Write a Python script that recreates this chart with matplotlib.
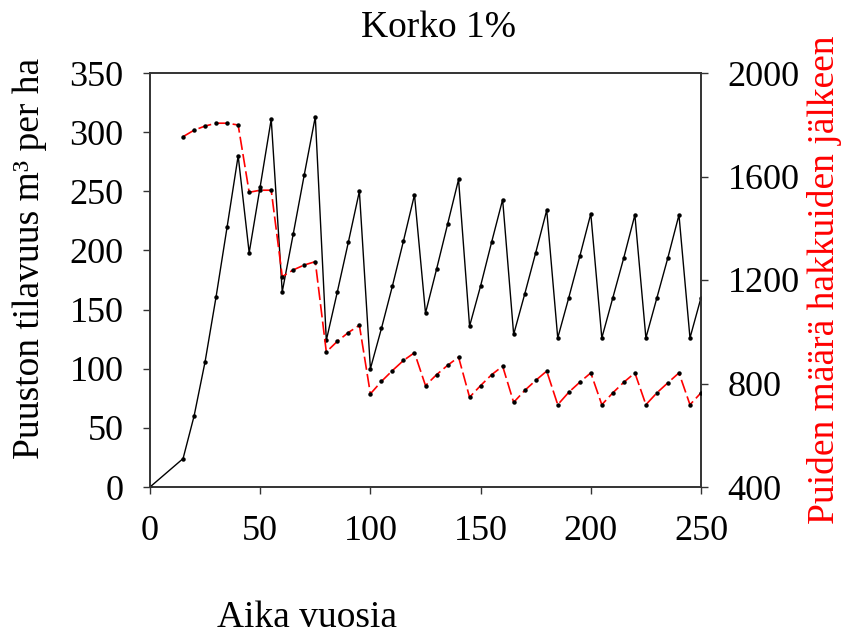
import matplotlib
matplotlib.use("Agg")
import matplotlib.pyplot as plt

plt.rcParams['font.family'] = ['Liberation Serif', 'DejaVu Serif']

years_vol = [0, 15, 20, 25, 30, 35, 40, 45, 50, 55, 60, 65, 70, 75, 80, 85, 90, 95,
             100, 105, 110, 115, 120, 125, 130, 135, 140, 145, 150, 155, 160, 165,
             170, 175, 180, 185, 190, 195, 200, 205, 210, 215, 220, 225, 230, 235,
             240, 245, 250]
volume = [0, 24, 60, 106, 161, 220, 280, 198, 254, 311, 165, 214, 264, 313, 124, 165,
          207, 250, 100, 134, 170, 208, 247, 147, 184, 222, 260, 136, 170, 207, 243,
          129, 163, 198, 234, 126, 160, 195, 231, 126, 160, 194, 230, 126, 160, 194,
          230, 126, 160]

years_trees = [15, 20, 25, 30, 35, 40, 45, 50, 55, 60, 65, 70, 75, 80, 85, 90, 95,
               100, 105, 110, 115, 120, 125, 130, 135, 140, 145, 150, 155, 160, 165,
               170, 175, 180, 185, 190, 195, 200, 205, 210, 215, 220, 225, 230, 235,
               240, 245, 250]
trees = [1754, 1779, 1795, 1806, 1806, 1799, 1539, 1547, 1547, 1213, 1239, 1258, 1271,
         922, 963, 997, 1025, 760, 808, 850, 889, 919, 792, 834, 870, 902, 747, 792,
         834, 867, 727, 773, 812, 848, 718, 766, 805, 841, 718, 764, 805, 841, 718,
         764, 803, 841, 718, 764]

title = "Korko 1%"
xlabel = "Aika vuosia"
ylabel_left = "Puuston tilavuus m³ per ha"
ylabel_right = "Puiden määrä hakkuiden jälkeen"
xticks = [0, 50, 100, 150, 200, 250]
yticks_left = [0, 50, 100, 150, 200, 250, 300, 350]
yticks_right = [400, 800, 1200, 1600, 2000]

W, H = 841, 634
fig = plt.figure(figsize=(W / 100, H / 100), dpi=100)
ax = fig.add_axes([150 / W, 1 - 487 / H, (701 - 150) / W, (487 - 73) / H])
ax2 = ax.twinx()

ax.plot(years_vol, volume, color='black', lw=1.0, marker='o', markersize=2.2,
        markerfacecolor='black', markeredgecolor='black', zorder=3)
ax2.plot(years_trees, trees, color='red', lw=1.2, dashes=(8, 2.5), marker='o',
         markersize=2.2, markerfacecolor='black', markeredgecolor='black', zorder=3)

ax.set_xlim(0, 250)
ax.set_ylim(0, 350)
ax2.set_ylim(400, 2000)
ax.set_xticks(xticks)
ax.set_yticks(yticks_left)
ax2.set_yticks(yticks_right)

tfs = 26
lfs = 27
for a in (ax, ax2):
    for s in a.spines.values():
        s.set_color('#333333')
        s.set_linewidth(1.2)
ax.tick_params(axis='x', direction='out', length=5, width=1, colors='#333333',
               labelcolor='black', labelsize=tfs, pad=15)
ax.tick_params(axis='y', direction='out', length=5, width=1, colors='#333333',
               labelcolor='black', labelsize=tfs, pad=14)
ax2.tick_params(axis='y', direction='out', length=5, width=1, colors='#333333',
                labelcolor='black', labelsize=tfs, pad=14)

fig.text(438 / W, 1 - 37 / H, title, ha='center', va='baseline', fontsize=lfs)
fig.text(217 / W, 1 - 627 / H, xlabel, ha='left', va='baseline', fontsize=lfs)
fig.text(30 / W, 1 - 258 / H, ylabel_left, ha='center', va='center', rotation=90,
         fontsize=lfs)
fig.text(825 / W, 1 - 280 / H, ylabel_right, ha='center', va='center', rotation=90,
         fontsize=lfs, color='red')

fig.savefig("out.png", dpi=100)
